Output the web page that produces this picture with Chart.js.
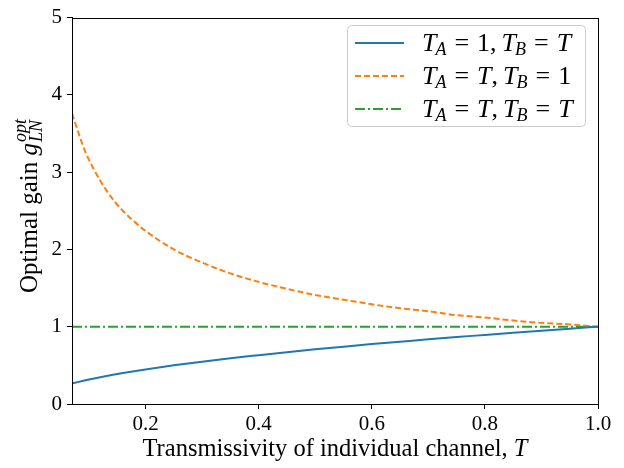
<!DOCTYPE html>
<html><head><meta charset="utf-8">
<script src="https://cdn.jsdelivr.net/npm/chart.js@4.4.1/dist/chart.umd.min.js"></script>
<style>html,body{margin:0;padding:0;background:#fff}#wrap{width:624px;height:468px}</style>
</head><body><div id="wrap"><canvas id="c" width="624" height="468"></canvas></div>
<script>
const transmissivity = [0.07,0.08,0.09,0.10,0.12,0.14,0.16,0.18,0.20,0.25,0.30,0.35,0.40,0.45,0.50,0.55,0.60,0.65,0.70,0.75,0.80,0.85,0.90,0.95,1.00];
const gainA1BT = [0.265,0.283,0.300,0.316,0.346,0.374,0.400,0.424,0.447,0.500,0.548,0.592,0.632,0.671,0.707,0.742,0.775,0.806,0.837,0.866,0.894,0.922,0.949,0.975,1.00];
const gainATB1 = [3.76,3.54,3.33,3.16,2.89,2.67,2.50,2.36,2.24,2.00,1.83,1.69,1.58,1.49,1.41,1.35,1.29,1.24,1.20,1.15,1.12,1.08,1.05,1.03,1.00];
const gainATBT = [1,1,1,1,1,1,1,1,1,1,1,1,1,1,1,1,1,1,1,1,1,1,1,1,1];
const xTicks = [0.2,0.4,0.6,0.8,1.0];
const yTicks = [0,1,2,3,4,5];

const FONT = '"Liberation Serif", "DejaVu Serif", serif';
const pts = (ys) => transmissivity.map((x,i)=>({x:x,y:ys[i]}));

function drawRich(ctx, parts, x, y, align) {
  const widths = parts.map(p => {
    ctx.font = (p.italic ? 'italic ' : '') + p.size + 'px ' + FONT;
    return ctx.measureText(p.text).width;
  });
  let cx = 0, positions = [], maxX = 0;
  parts.forEach((p,i) => {
    if (p.stack) { cx = positions[i-1]; }
    cx += (p.pre||0);
    positions.push(cx);
    cx += widths[i] + (p.gap||0);
    maxX = Math.max(maxX, cx);
  });
  const x0 = align === 'center' ? x - maxX/2 : x;
  parts.forEach((p,i) => {
    ctx.font = (p.italic ? 'italic ' : '') + p.size + 'px ' + FONT;
    ctx.fillStyle = '#000';
    ctx.textBaseline = 'alphabetic';
    ctx.textAlign = 'left';
    ctx.fillText(p.text, x0 + positions[i], y + (p.dy||0));
  });
}

const LS = 26, SS = 18;
const T = {text:'T',italic:true,size:LS};
const subA = {text:'A',italic:true,size:SS,dy:4,pre:-1};
const subB = {text:'B',italic:true,size:SS,dy:4,pre:-1};
const eq = {text:'=',size:LS,pre:8,gap:8};
const comma = {text:',',size:LS,gap:5};
const one = {text:'1',size:LS};
const legendItems = [
  {color:'#1f77b4', dash:[], parts:[T,subA,eq,one,comma,T,subB,eq,T]},
  {color:'#ff7f0e', dash:[6,3], parts:[T,subA,eq,T,comma,T,subB,eq,one]},
  {color:'#2ca02c', dash:[10,3,2,3], parts:[T,subA,eq,T,comma,T,subB,eq,T]}
];

const decor = {
  id:'decor',
  afterDraw(chart) {
    const ctx = chart.ctx, a = chart.chartArea;
    ctx.save();
    ctx.strokeStyle = '#000'; ctx.lineWidth = 1;
    ctx.strokeRect(Math.round(a.left)+0.5, Math.round(a.top)+0.5, Math.round(a.right-a.left), Math.round(a.bottom-a.top));
    // legend box
    const bx = 347.5, by = 25.5, bw = 238, bh = 101, r = 4;
    ctx.beginPath();
    ctx.moveTo(bx+r,by); ctx.lineTo(bx+bw-r,by); ctx.quadraticCurveTo(bx+bw,by,bx+bw,by+r);
    ctx.lineTo(bx+bw,by+bh-r); ctx.quadraticCurveTo(bx+bw,by+bh,bx+bw-r,by+bh);
    ctx.lineTo(bx+r,by+bh); ctx.quadraticCurveTo(bx,by+bh,bx,by+bh-r);
    ctx.lineTo(bx,by+r); ctx.quadraticCurveTo(bx,by,bx+r,by); ctx.closePath();
    ctx.fillStyle = 'rgba(255,255,255,0.8)'; ctx.fill();
    ctx.strokeStyle = '#cccccc'; ctx.stroke();
    legendItems.forEach((it,i) => {
      const ly = 43 + i*33;
      ctx.beginPath(); ctx.setLineDash(it.dash); ctx.strokeStyle = it.color; ctx.lineWidth = 2;
      ctx.moveTo(355, ly); ctx.lineTo(404, ly); ctx.stroke(); ctx.setLineDash([]);
      drawRich(ctx, it.parts, 422, ly + 8, 'left');
    });
    // x title
    drawRich(ctx, [{text:'Transmissivity of individual channel, ',size:24.5},{text:'T',italic:true,size:24.5}], (a.left+a.right)/2, 456, 'center');
    // y title
    ctx.translate(37, 206);
    ctx.rotate(-Math.PI/2);
    drawRich(ctx, [{text:'Optimal gain ',size:25},{text:'g',italic:true,size:25,gap:1},{text:'LN',italic:true,size:18,dy:5},{text:'opt',italic:true,size:18,dy:-11,stack:true}], 0, 0, 'center');
    ctx.restore();
  }
};

new Chart(document.getElementById('c'), {
  type:'line',
  data:{datasets:[
    {label:'TA=1,TB=T', data:pts(gainA1BT), borderColor:'#1f77b4', borderWidth:2, pointRadius:0, cubicInterpolationMode:'monotone', fill:false},
    {label:'TA=T,TB=1', data:pts(gainATB1), borderColor:'#ff7f0e', borderWidth:2, borderDash:[6,3], pointRadius:0, cubicInterpolationMode:'monotone', fill:false},
    {label:'TA=T,TB=T', data:pts(gainATBT), borderColor:'#2ca02c', borderWidth:2, borderDash:[10,3,2,3], pointRadius:0, fill:false}
  ]},
  options:{
    responsive:false, animation:false,
    layout:{padding:{top:14,right:26,left:0,bottom:0}},
    plugins:{legend:{display:false}, tooltip:{enabled:false}},
    scales:{
      x:{type:'linear', min:0.07, max:1.0,
        afterBuildTicks(s){ s.ticks = xTicks.map(v=>({value:v})); },
        afterFit(s){ s.height = 64; },
        ticks:{color:'#000', font:{family:FONT, size:21}, padding:3, maxRotation:0, callback:(v)=>Number(v).toFixed(1)},
        grid:{drawOnChartArea:false, drawTicks:true, tickLength:5, tickColor:'#000'},
        border:{display:true, color:'#000'}
      },
      y:{min:0, max:5,
        afterBuildTicks(s){ s.ticks = yTicks.map(v=>({value:v})); },
        afterFit(s){ s.width = 72; },
        ticks:{color:'#000', font:{family:FONT, size:21}, padding:5, callback:(v)=>String(v)},
        grid:{drawOnChartArea:false, drawTicks:true, tickLength:5, tickColor:'#000'},
        border:{display:true, color:'#000'}
      }
    }
  },
  plugins:[decor]
});
</script></body></html>
